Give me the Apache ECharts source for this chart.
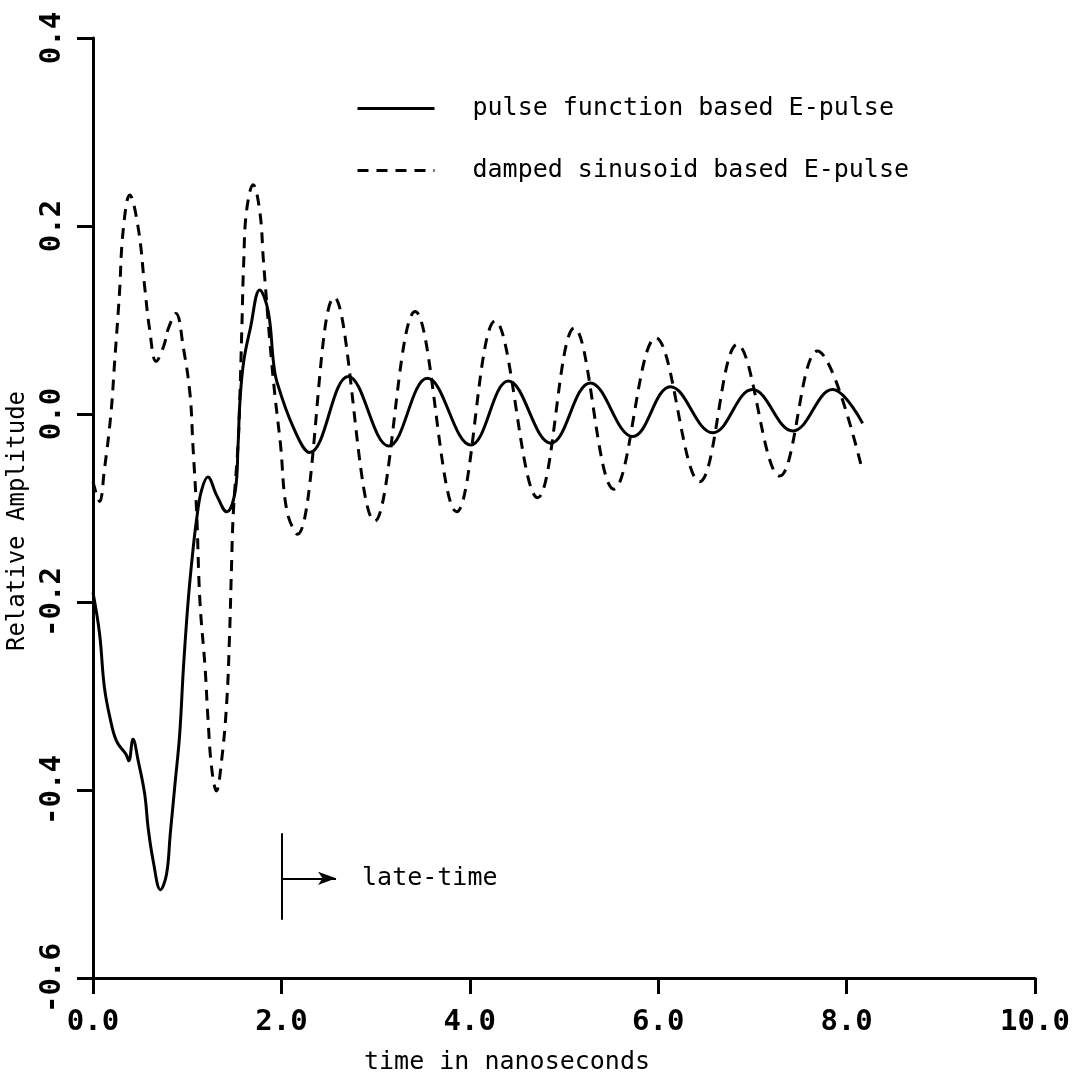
<!DOCTYPE html>
<html>
<head>
<meta charset="utf-8">
<script src="https://cdn.jsdelivr.net/npm/echarts@6/dist/echarts.min.js"></script>
<style>
html,body{margin:0;padding:0;background:#fff;}
#chart{width:1092px;height:1074px;}
</style>
</head>
<body>
<div id="chart"></div>
<script>
// ---- data ----
const seriesNames = ['pulse function based E-pulse', 'damped sinusoid based E-pulse'];

const pulseT = [0.00, 0.07, 0.12, 0.18, 0.25, 0.35, 0.38, 0.425, 0.48, 0.55, 0.585, 0.64, 0.716, 0.78, 0.82, 0.87, 0.92, 0.96, 1.01, 1.06, 1.10, 1.15, 1.22, 1.31, 1.42, 1.51, 1.54, 1.56, 1.60, 1.67, 1.77, 1.86, 1.915, 1.95, 2.13, 2.30, 2.71, 3.14, 3.55, 4.01, 4.41, 4.86, 5.28, 5.73, 6.13, 6.58, 7.00, 7.43, 7.85, 8.17];
const pulseAmp = [-0.19, -0.234, -0.29, -0.323, -0.348, -0.362, -0.369, -0.346, -0.369, -0.405, -0.44, -0.476, -0.506, -0.49, -0.447, -0.394, -0.341, -0.27, -0.199, -0.146, -0.112, -0.082, -0.067, -0.086, -0.104, -0.082, -0.033, 0.0135, 0.056, 0.091, 0.132, 0.109, 0.056, 0.035, -0.015, -0.041, 0.040, -0.034, 0.038, -0.033, 0.035, -0.031, 0.033, -0.024, 0.029, -0.020, 0.026, -0.018, 0.026, -0.010];

const dampT = [0.00, 0.07, 0.12, 0.19, 0.23, 0.28, 0.32, 0.39, 0.48, 0.55, 0.60, 0.67, 0.75, 0.80, 0.88, 0.96, 1.03, 1.06, 1.10, 1.135, 1.19, 1.22, 1.26, 1.31, 1.365, 1.42, 1.45, 1.47, 1.49, 1.54, 1.56, 1.58, 1.60, 1.63, 1.70, 1.77, 1.81, 1.88, 1.93, 1.99, 2.06, 2.17, 2.56, 2.99, 3.42, 3.86, 4.27, 4.72, 5.11, 5.53, 5.975, 6.44, 6.84, 7.29, 7.69, 8.16];
const dampAmp = [-0.072, -0.093, -0.06, 0.0, 0.056, 0.127, 0.195, 0.233, 0.198, 0.134, 0.091, 0.056, 0.072, 0.091, 0.107, 0.070, 0.021, -0.032, -0.104, -0.199, -0.27, -0.323, -0.377, -0.401, -0.369, -0.306, -0.234, -0.164, -0.104, -0.032, 0.021, 0.091, 0.162, 0.216, 0.244, 0.216, 0.162, 0.074, 0.021, -0.032, -0.104, -0.128, 0.124, -0.114, 0.109, -0.104, 0.099, -0.089, 0.0915, -0.080, 0.081, -0.072, 0.074, -0.066, 0.067, -0.057];

// late-time marker (time where late time begins, vertical extent, arrow level and end)
const lateTimeStart = 2.0;
const lateTimeBar = [-0.446, -0.538];
const lateTimeArrow = [-0.494, 2.58];
const lateTimeText = 'late-time';

const xTitle = 'time in nanoseconds';
const yTitle = 'Relative Amplitude';

// ---- build ----
const zip = (a, b) => a.map((v, i) => [v, b[i]]);
const tickFont = 'DejaVu Sans Mono';

const chart = echarts.init(document.getElementById('chart'), null, {renderer: 'canvas'});
chart.setOption({
  animation: false,
  backgroundColor: '#fff',
  grid: {left: 93, right: 57, top: 38, bottom: 96, containLabel: false, outerBoundsMode: 'none'},
  legend: {
    data: seriesNames,
    orient: 'vertical',
    left: 351,
    top: 91,
    itemWidth: 77,
    itemHeight: 14,
    itemGap: 37,
    itemStyle: {opacity: 0},
    lineStyle: {width: 3},
    textStyle: {fontFamily: tickFont, fontSize: 25, color: '#000', padding: [0, 0, 0, 33]}
  },
  xAxis: {
    type: 'value', min: 0, max: 10, interval: 2,
    name: xTitle, nameLocation: 'middle', nameGap: 72,
    nameTextStyle: {fontFamily: tickFont, fontSize: 25, color: '#000', padding: [0, 114, 0, 0]},
    axisLine: {show: true, onZero: false, lineStyle: {color: '#000', width: 3}},
    axisTick: {show: true, length: 16, lineStyle: {color: '#000', width: 3}},
    axisLabel: {margin: 30, fontFamily: tickFont, fontWeight: 'bold', fontSize: 29, color: '#000',
      formatter: v => v.toFixed(1)},
    splitLine: {show: false}
  },
  yAxis: {
    type: 'value', min: -0.6, max: 0.4, interval: 0.2,
    name: yTitle, nameLocation: 'middle', nameGap: 57,
    nameTextStyle: {fontFamily: tickFont, fontSize: 24, color: '#000', padding: [0, 26, 0, 0]},
    axisLine: {show: true, onZero: false, lineStyle: {color: '#000', width: 3}},
    axisTick: {show: true, length: 16, lineStyle: {color: '#000', width: 3}},
    axisLabel: {rotate: 90, margin: 26, fontFamily: tickFont, fontWeight: 'bold', fontSize: 29, color: '#000',
      formatter: v => v.toFixed(1)},
    splitLine: {show: false}
  },
  series: [
    {
      name: seriesNames[0], type: 'line', data: zip(pulseT, pulseAmp),
      smooth: 0.4, showSymbol: false, symbol: 'none',
      lineStyle: {color: '#000', width: 3, type: 'solid'},
      itemStyle: {color: '#000'},
      markLine: {
        silent: true, symbol: 'none', animation: false,
        lineStyle: {color: '#000', width: 2, type: 'solid'},
        label: {show: false},
        data: [
          [{coord: [lateTimeStart, lateTimeBar[0]]}, {coord: [lateTimeStart, lateTimeBar[1]]}],
          [{coord: [lateTimeStart, lateTimeArrow[0]], symbol: 'none'},
           {coord: [lateTimeArrow[1], lateTimeArrow[0]], symbol: 'arrow', symbolSize: [10, 18],
            label: {show: true, position: 'end', formatter: lateTimeText, distance: 26,
              fontFamily: tickFont, fontSize: 25, color: '#000'}}]
        ]
      }
    },
    {
      name: seriesNames[1], type: 'line', data: zip(dampT, dampAmp),
      smooth: 0.4, showSymbol: false, symbol: 'none',
      lineStyle: {color: '#000', width: 3, type: [11, 8]},
      itemStyle: {color: '#000'}
    }
  ]
});
</script>
</body>
</html>
